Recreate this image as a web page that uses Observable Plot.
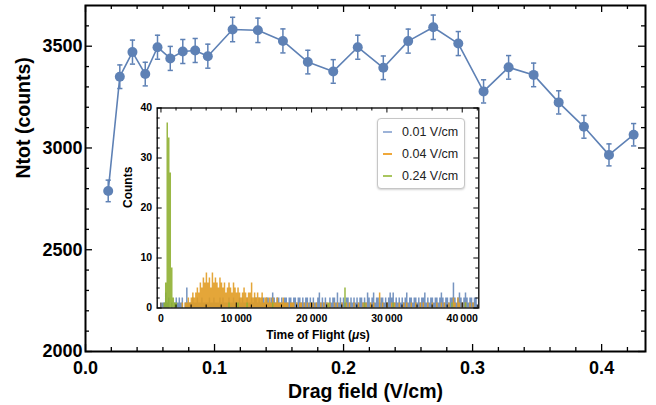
<!DOCTYPE html>
<html><head><meta charset="utf-8">
<script src="https://cdn.jsdelivr.net/npm/d3@7"></script>
<script src="https://cdn.jsdelivr.net/npm/@observablehq/plot@0.6"></script>
<style>
body{margin:0;background:#fff;font-family:"Liberation Sans",Arial,sans-serif;}
#wrap{position:relative;width:656px;height:405px;overflow:hidden;}
#main{position:absolute;left:0;top:0}
#inset{position:absolute;left:100px;top:100px}
#legend{position:absolute;left:377px;top:118px;width:88px;height:71px;box-sizing:border-box;border:1px solid #c6c6c6;border-radius:4px;background:#fff;box-shadow:0 1px 2px rgba(0,0,0,0.18);}
.row{position:absolute;left:0;height:22px;display:flex;align-items:center;font-size:12.5px;color:#222;white-space:nowrap}
.sw{display:inline-block;width:9px;height:2px;margin-left:5px;margin-right:10px}
</style></head>
<body><div id="wrap"><div id="main"></div><div id="inset"></div><div id="legend"></div></div>
<script>
// ---------- main series ----------
const field = [0.0176,0.0266,0.0364,0.0463,0.0558,0.0657,0.0754,0.0850,0.0948,0.1140,0.1336,0.1530,0.1723,0.1920,0.2110,0.2308,0.2501,0.2695,0.2889,0.3085,0.3279,0.3473,0.3667,0.3863,0.4057,0.4248];
const ntot = [2789,3350,3471,3363,3495,3440,3474,3479,3451,3582,3578,3526,3422,3376,3495,3394,3525,3593,3513,3278,3396,3359,3224,3104,2966,3065];
const ntotErr = [53,58,59,58,59,59,59,59,59,60,60,59,58,58,59,58,59,60,59,57,58,58,57,56,54,55];

const xMajorTicks = [0,0.1,0.2,0.3,0.4];
const xMinorTicks = [0.02,0.04,0.06,0.08,0.12,0.14,0.16,0.18,0.22,0.24,0.26,0.28,0.32,0.34,0.36,0.38,0.42];
const yMajorTicks = [2000,2500,3000,3500];
const yMinorTicks = [2100,2200,2300,2400,2600,2700,2800,2900,3100,3200,3300,3400,3600];
const xLabel = "Drag field (V/cm)";
const yLabel = "Ntot (counts)";

// ---------- inset series (counts per 200 µs bin, starting at 0) ----------
const binWidth = 200;
const seriesNames = ["0.01 V/cm","0.04 V/cm","0.24 V/cm"];
const blueCounts = [
0,1,1,3,1,2,0,1,0,1, 2,1,2,1,2,0,1,4,1,1, 1,2,1,1,2,1,1,2,1,1, 1,1,2,1,1,2,1,1,1,2,
1,2,1,1,1,2,1,1,2,1, 1,1,2,1,2,1,1,2,1,1, 2,1,2,2,1,2,1,2,2,1, 2,2,1,2,3,2,1,2,2,1,
2,1,2,2,1,2,2,1,2,2, 1,2,2,1,2,1,2,2,1,2, 1,2,1,1,2,3,1,2,1,2, 1,0,2,1,2,2,1,3,1,2,
1,2,1,2,2,1,2,1,2,1, 2,1,2,2,1,2,1,3,2,1, 2,3,1,2,2,1,2,2,1,2, 1,2,3,2,3,1,2,1,2,1,
2,1,2,3,1,2,2,1,2,2, 1,2,1,2,2,3,1,2,1,2, 2,1,2,2,1,2,3,2,1,2, 2,1,2,2,5,2,1,2,3,2,
1,2,3,2,1,2,2,1,2,2];
const orangeCounts = [
0,0,0,0,0,0,0,0,0,0, 0,0,0,0,1,0,1,1,2,1, 2,3,2,3,4,3,5,4,6,5, 7,5,6,4,7,5,6,5,4,6,
5,4,5,3,4,5,4,3,5,4, 3,4,3,2,3,4,3,2,3,3, 5,2,3,2,3,2,2,3,1,2, 2,1,2,1,2,1,1,2,1,1,
1,2,1,1,1,0,1,1,1,0, 1,0,1,1,0,1,0,1,0,1, 0,1,0,1,0,0,1,0,1,0, 1,0,1,0,0,1,0,1,0,0,
1,0,0,1,0,1,0,0,1,0, 0,1,0,0,1,0,1,0,0,1, 0,1,0,0,0,3,0,1,0,0, 1,0,0,1,0,1,0,0,1,0,
0,1,0,1,0,0,1,0,0,1, 0,0,1,0,1,0,0,1,0,0, 1,0,0,1,0,0,1,0,1,0, 0,1,0,0,2,1,0,2,1,0,
1,0,1,0,0,1,0,1,0,0];
const greenCounts = [
0,0,1,5,37,34,27,8,2,1, 1,0,0,0,0,0,0,0,0,0, 0,0,0,0,0,0,0,0,0,0, 0,0,0,0,0,0,0,0,0,0,
0,0,0,0,0,1,0,0,0,0, 0,1,0,0,0,0,0,1,0,0, 0,0,0,0,0,0,0,0,0,0, 0,0,0,0,1,0,0,0,0,0,
0,0,0,0,0,0,0,0,0,0, 0,0,0,0,0,0,0,0,0,0, 0,0,0,0,0,0,0,0,0,0, 0,1,0,0,0,0,0,0,0,0,
0,0,4,0,0,0,0,0,0,0, 0,0,0,0,0,1,0,0,0,0, 0,0,0,0,0,0,0,0,0,0, 0,0,0,0,1,0,0,0,0,0,
0,0,0,0,0,0,0,0,0,0, 0,0,0,0,0,0,0,0,0,0, 0,0,0,0,0,0,0,0,0,0, 0,0,0,1,0,0,0,0,0,0,
0,0,1,0,0,0,0,0,0,0];
const insetXMajor = [0,10000,20000,30000,40000];
const insetXMinor = [2000,4000,6000,8000,12000,14000,16000,18000,22000,24000,26000,28000,32000,34000,36000,38000,42000];
const insetYMajor = [0,10,20,30,40];
const insetYMinor = [2,4,6,8,12,14,16,18,22,24,26,28,32,34,36,38];
const insetXLabel = "Time of Flight (μs)";
const insetYLabel = "Counts";

// ---------- styles ----------
const blue = "#5E81B5", orange = "#E19C24", green = "#8FB032";
const legendColors = ["#9DB3D8", "#EFA83A", "#A9C65E"];
const fontFamily = '"Liberation Sans", Arial, sans-serif';

// ---------- main plot ----------
const W = 656, H = 405, mL = 85, mT = 5, mR = 11, mB = 54;
const iw = W - mL - mR, ih = H - mT - mB;
const mainData = field.map((f, i) => ({f, v: ntot[i], e: ntotErr[i]}));
const capSymbol = {draw(ctx) { ctx.moveTo(-2.6, 0); ctx.lineTo(2.6, 0); }};
const tk = {stroke: "black", strokeWidth: 1.3};

const main = Plot.plot({
  width: W, height: H, marginLeft: mL, marginTop: mT, marginRight: mR, marginBottom: mB,
  style: {fontFamily, background: "transparent", overflow: "visible"},
  x: {domain: [0, 0.434], axis: null},
  y: {domain: [2000, 3700], axis: null},
  marks: [
    Plot.tickX(xMajorTicks, {x: d => d, insetTop: ih - 7, ...tk}),
    Plot.tickX(xMajorTicks, {x: d => d, insetBottom: ih - 7, ...tk}),
    Plot.tickX(xMinorTicks, {x: d => d, insetTop: ih - 4, ...tk}),
    Plot.tickX(xMinorTicks, {x: d => d, insetBottom: ih - 4, ...tk}),
    Plot.tickY(yMajorTicks, {y: d => d, insetRight: iw - 7, ...tk}),
    Plot.tickY(yMajorTicks, {y: d => d, insetLeft: iw - 7, ...tk}),
    Plot.tickY(yMinorTicks, {y: d => d, insetRight: iw - 4, ...tk}),
    Plot.tickY(yMinorTicks, {y: d => d, insetLeft: iw - 4, ...tk}),
    Plot.frame({stroke: "black", strokeWidth: 2}),
    Plot.text(xMajorTicks, {x: d => d, frameAnchor: "bottom", dy: 22, lineAnchor: "bottom", text: d => d3.format(".1f")(d), fontSize: 18, fontWeight: "bold", fill: "black"}),
    Plot.text(yMajorTicks, {y: d => d, frameAnchor: "left", dx: -3, textAnchor: "end", lineAnchor: "middle", text: d => String(d), fontSize: 18, fontWeight: "bold", fill: "black"}),
    Plot.text([xLabel], {frameAnchor: "bottom", dy: 46, lineAnchor: "bottom", text: d => d, fontSize: 19.5, fontWeight: "bold", fill: "black"}),
    Plot.text([yLabel], {frameAnchor: "left", dx: -62, rotate: -90, lineAnchor: "middle", text: d => d, fontSize: 19.5, fontWeight: "bold", fill: "black"}),
    Plot.ruleX(mainData, {x: "f", y1: d => d.v - d.e, y2: d => d.v + d.e, stroke: blue, strokeWidth: 1.5}),
    Plot.dot(mainData, {x: "f", y: d => d.v + d.e, symbol: capSymbol, stroke: blue, strokeWidth: 1.5, fill: "none"}),
    Plot.dot(mainData, {x: "f", y: d => d.v - d.e, symbol: capSymbol, stroke: blue, strokeWidth: 1.5, fill: "none"}),
    Plot.line(mainData, {x: "f", y: "v", stroke: blue, strokeWidth: 1.6}),
    Plot.dot(mainData, {x: "f", y: "v", r: 5, fill: blue, stroke: "none"})
  ]
});
document.getElementById("main").append(main);

// ---------- inset ----------
const IW = 390, IH = 245, imL = 56.7, imT = 7.5, imR = 11.7, imB = 37.5;
const iiw = IW - imL - imR, iih = IH - imT - imB;
const toSteps = counts => counts.map((c, i) => ({t: i * binWidth, c})).concat([{t: counts.length * binWidth, c: 0}]);
const itk = {stroke: "black", strokeWidth: 1};
const groupFmt = d => d === 0 ? "0" : d3.format(",")(d).replace(",", "\u2009");

const inset = Plot.plot({
  width: IW, height: IH, marginLeft: imL, marginTop: imT, marginRight: imR, marginBottom: imB,
  style: {fontFamily, background: "transparent", overflow: "visible"},
  x: {domain: [-500, 42200], axis: null},
  y: {domain: [0, 40], axis: null},
  marks: [
    Plot.frame({fill: "white", stroke: "none"}),
    Plot.areaY(toSteps(blueCounts), {x: "t", y: "c", curve: "step-after", fill: blue, fillOpacity: 0.85}),
    Plot.areaY(toSteps(orangeCounts), {x: "t", y: "c", curve: "step-after", fill: orange, fillOpacity: 0.9}),
    Plot.areaY(toSteps(greenCounts), {x: "t", y: "c", curve: "step-after", fill: green, fillOpacity: 0.9}),
    Plot.tickX(insetXMajor, {x: d => d, insetTop: iih - 5, ...itk}),
    Plot.tickX(insetXMajor, {x: d => d, insetBottom: iih - 5, ...itk}),
    Plot.tickX(insetXMinor, {x: d => d, insetTop: iih - 3, ...itk}),
    Plot.tickX(insetXMinor, {x: d => d, insetBottom: iih - 3, ...itk}),
    Plot.tickY(insetYMajor, {y: d => d, insetRight: iiw - 5, ...itk}),
    Plot.tickY(insetYMajor, {y: d => d, insetLeft: iiw - 5, ...itk}),
    Plot.tickY(insetYMinor, {y: d => d, insetRight: iiw - 3, ...itk}),
    Plot.tickY(insetYMinor, {y: d => d, insetLeft: iiw - 3, ...itk}),
    Plot.frame({stroke: "black", strokeWidth: 1.3}),
    Plot.text(insetXMajor, {x: d => d, frameAnchor: "bottom", dy: 14, lineAnchor: "bottom", text: groupFmt, fontSize: 10.5, fontWeight: "bold", fill: "black"}),
    Plot.text(insetYMajor, {y: d => d, frameAnchor: "left", dx: -5, textAnchor: "end", lineAnchor: "middle", text: d => String(d), fontSize: 10.5, fontWeight: "bold", fill: "black"}),
    Plot.text([insetXLabel], {frameAnchor: "bottom", dy: 31, lineAnchor: "bottom", text: d => d, fontSize: 12, fontWeight: "bold", fill: "black"}),
    Plot.text([insetYLabel], {frameAnchor: "left", dx: -29, rotate: -90, lineAnchor: "middle", text: d => d, fontSize: 12, fontWeight: "bold", fill: "black"})
  ]
});
inset.querySelectorAll("text").forEach(t => {
  if (t.textContent === insetXLabel) {
    t.innerHTML = 'Time of Flight (<tspan font-style="italic">μ</tspan>s)';
  }
});
document.getElementById("inset").append(inset);

// ---------- legend ----------
const legend = document.getElementById("legend");
seriesNames.forEach((name, i) => {
  const row = document.createElement("div");
  row.className = "row";
  row.style.top = (1.5 + 22 * i) + "px";
  const sw = document.createElement("span");
  sw.className = "sw";
  sw.style.background = legendColors[i];
  const lab = document.createElement("span");
  lab.textContent = name;
  row.append(sw, lab);
  legend.append(row);
});
</script>
</body></html>
